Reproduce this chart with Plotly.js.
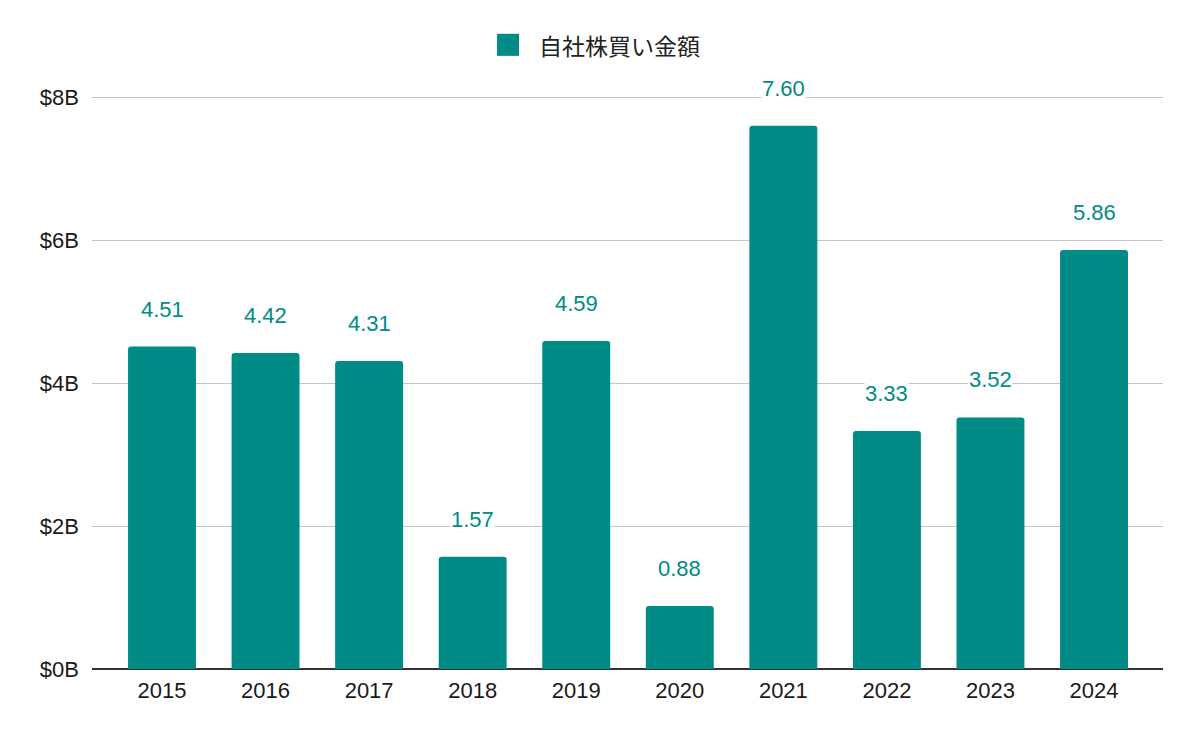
<!DOCTYPE html>
<html><head><meta charset="utf-8">
<script src="https://cdn.plot.ly/plotly-3.0.1.min.js"></script>
<style>html,body{margin:0;padding:0;background:#fff}#chart{width:1200px;height:742px}</style>
</head><body><div id="chart"></div>
<script>
const years = ['2015','2016','2017','2018','2019','2020','2021','2022','2023','2024'];
const buybacks = [4.51, 4.42, 4.31, 1.57, 4.59, 0.88, 7.60, 3.33, 3.52, 5.86];
const seriesName = '自社株買い金額';
const yTickVals = [0, 2, 4, 6, 8];
const yTickText = ['$0B', '$2B', '$4B', '$6B', '$8B'];
const teal = '#008B86';
const font = 'Liberation Sans, Arial, sans-serif';

const traces = [
  {type:'bar', x: years, y: buybacks, name: seriesName, marker:{color: teal, cornerradius: 3}, showlegend:false, hoverinfo:'none'}
];

const annotations = years.map((yr, i) => ({
  x: i, y: buybacks[i], xref:'x', yref:'y', text: buybacks[i].toFixed(2),
  showarrow:false, yanchor:'bottom', yshift: 24,
  font:{family: font, size:22, color: teal},
  bgcolor:'#ffffff', borderpad:0
}));
annotations.push({
  xref:'paper', yref:'paper', x:0.4155, y:1.0874, xanchor:'left', yanchor:'middle',
  text: seriesName, showarrow:false,
  font:{family:'Noto Sans CJK JP, sans-serif', size:23, color:'#222'}
});

const layout = {
  width:1200, height:742,
  margin:{l:92, r:37, t:95, b:73},
  paper_bgcolor:'#fff', plot_bgcolor:'#fff',
  bargap: 0.344,
  showlegend:false,
  xaxis:{type:'category', range:[-0.676, 9.666], showgrid:false, ticks:'', showline:false,
         tickfont:{family: font, size:22, color:'#1a1a1a'}, ticklabelstandoff: 6},
  yaxis:{range:[0,8.03], tickvals:yTickVals, ticktext:yTickText, showgrid:true, gridcolor:'#c6c6c6', gridwidth:1,
         zeroline:true, zerolinecolor:'#333333', zerolinewidth:1.5, ticks:'', showline:false,
         tickfont:{family: font, size:22, color:'#1a1a1a'}, ticklabelstandoff: 12},
  shapes:[{type:'rect', xref:'paper', yref:'paper', x0:0.3782, x1:0.3987, y0:1.0682, y1:1.1066,
           fillcolor: teal, line:{width:0}}],
  annotations: annotations
};

Plotly.newPlot('chart', traces, layout, {staticPlot:true});
</script></body></html>
